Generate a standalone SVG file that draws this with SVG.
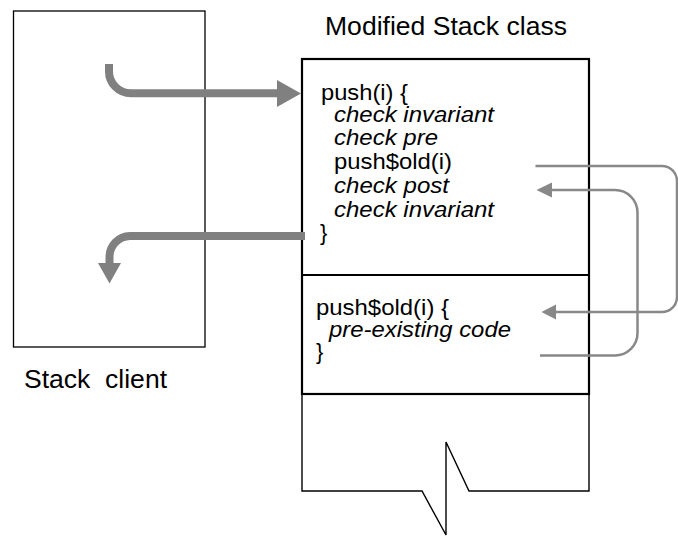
<svg xmlns="http://www.w3.org/2000/svg" width="678" height="538" viewBox="0 0 678 538">
<style>
text{font-family:"Liberation Sans",Arial,sans-serif;fill:#000}
.code{font-size:22px}
.it{font-style:italic}
.lbl{font-size:25px}
.box{fill:none;stroke:#000}
.thick{fill:none;stroke:#808080;stroke-width:8}
.thin{fill:none;stroke:#888;stroke-width:2.5}
.head{fill:#808080}
.headt{fill:#888}
</style>
<rect width="678" height="538" fill="#fff"/>
<g id="client">
<rect class="box" x="13.5" y="11" width="191.5" height="336" stroke-width="1.3"/>
<text class="lbl" x="24" y="388" textLength="143" lengthAdjust="spacingAndGlyphs" xml:space="preserve">Stack  client</text>
</g>
<g id="stack-class">
<text class="lbl" x="325" y="35" textLength="242" lengthAdjust="spacingAndGlyphs">Modified Stack class</text>
<rect class="box" x="302" y="59" width="287" height="335" stroke-width="2.2"/>
<line class="box" x1="302" y1="275" x2="589" y2="275" stroke-width="2"/>
<polyline class="box" stroke-width="1.4" points="302,394 302,491 422,491 446,535 446,442 469,491 589,491 589,394"/>
</g>
<g id="push">
<text class="code" x="321" y="99.5" textLength="87" lengthAdjust="spacingAndGlyphs">push(i) {</text>
<text class="code it" x="334" y="122" textLength="160" lengthAdjust="spacingAndGlyphs">check invariant</text>
<text class="code it" x="334" y="145" textLength="104" lengthAdjust="spacingAndGlyphs">check pre</text>
<text class="code" x="334" y="169" textLength="118" lengthAdjust="spacingAndGlyphs">push$old(i)</text>
<text class="code it" x="334" y="193" textLength="115" lengthAdjust="spacingAndGlyphs">check post</text>
<text class="code it" x="334" y="216.5" textLength="160" lengthAdjust="spacingAndGlyphs">check invariant</text>
<text class="code" x="320" y="240">}</text>
</g>
<g id="push-old">
<text class="code" x="316" y="314.5" textLength="133" lengthAdjust="spacingAndGlyphs">push$old(i) {</text>
<text class="code it" x="329" y="337" textLength="182" lengthAdjust="spacingAndGlyphs">pre-existing code</text>
<text class="code" x="316" y="359">}</text>
</g>
<g id="connectors">
<path class="thick" d="M109,64 V71 A22,22 0 0 0 131,93.3 H279"/>
<polygon class="head" points="277,80 301,93.5 277,107"/>
<path class="thick" d="M305,236 H130 A21,21 0 0 0 109.5,257 V265"/>
<polygon class="head" points="98,263 121,263 109.5,283.5"/>
<path class="thin" d="M535.5,166 H662 A15,15 0 0 1 677,181 V297 A15,15 0 0 1 662,312 H554"/>
<polygon class="headt" points="556,304.5 541.5,312 556,319.5"/>
<path class="thin" d="M540,355.5 H615 A22.5,22.5 0 0 0 637.5,333 V212.5 A22.5,22.5 0 0 0 615,190 H550"/>
<polygon class="headt" points="552,182.5 536.5,190 552,197.5"/>
</g>
</svg>
